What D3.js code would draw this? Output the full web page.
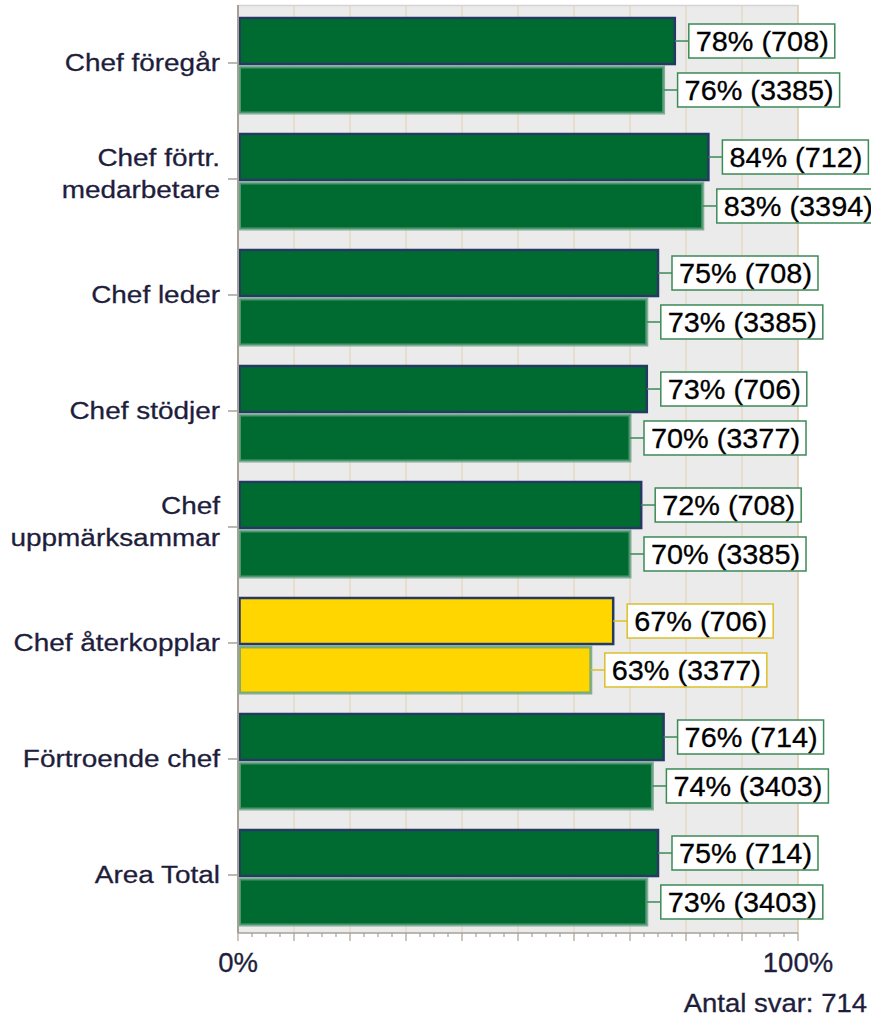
<!DOCTYPE html>
<html>
<head>
<meta charset="utf-8">
<script src="https://cdn.jsdelivr.net/npm/d3@7"></script>
<style>
  body { margin: 0; background: #fff; }
  svg { display: block; font-family: "Liberation Sans", Arial, sans-serif; }
</style>
</head>
<body>
<div class="chart"></div>
<script>
// data
const categories = ["Chef föregår", "Chef förtr.|medarbetare", "Chef leder", "Chef stödjer",
  "Chef|uppmärksammar", "Chef återkopplar", "Förtroende chef", "Area Total"];
const pctUnit = [78, 84, 75, 73, 72, 67, 76, 75];
const nUnit = [708, 712, 708, 706, 708, 706, 714, 714];
const pctTotal = [76, 83, 73, 70, 70, 63, 74, 73];
const nTotal = [3385, 3394, 3385, 3377, 3385, 3377, 3403, 3403];
const xTickLabels = ["0%", "100%"];
const footer = "Antal svar: 714";

const width = 871, height = 1018;
const margin = { top: 5, left: 238, right: 73, bottom: 85 };
const plotW = width - margin.left - margin.right;   // 560
const plotH = height - margin.top - margin.bottom;   // 928

const green = "#006b30", yellow = "#ffd600";
const fillFor = v => v < 70 ? yellow : green;
const boxStrokeFor = v => v < 70 ? "#dcbf2a" : "#3b8a57";
const axisText = "#1e1e3c";

const svg = d3.select(".chart").append("svg")
  .attr("width", width).attr("height", height);

const g = svg.append("g").attr("transform", `translate(${margin.left},${margin.top})`);

const x = d3.scaleLinear().domain([0, 100]).range([0, plotW]);
const y = d3.scaleBand().domain(categories).range([0, plotH]).paddingInner(0).paddingOuter(0);
const sub = d3.scaleBand().domain(["unit", "total"]).range([13, y.bandwidth() - 8]).paddingInner(0.06);

// horizontally stretched text helper
function stretchText(parent, tx, ty, sx, size, anchor, fill, str) {
  const wrap = parent.append("g").attr("transform", `translate(${tx},${ty}) scale(${sx},1)`);
  return wrap.append("text")
    .attr("text-anchor", anchor)
    .attr("font-size", size)
    .attr("fill", fill)
    .attr("stroke", fill).attr("stroke-width", 0.3)
    .text(str);
}

// background
g.append("rect").attr("width", plotW).attr("height", plotH).attr("fill", "#ebebeb");

// grid
g.selectAll(".grid").data(d3.range(10, 100, 10)).enter().append("line")
  .attr("x1", d => x(d)).attr("x2", d => x(d))
  .attr("y1", 0).attr("y2", plotH)
  .attr("stroke", "#e6d6bc").attr("stroke-width", 1.2);
g.append("line").attr("x1", 0).attr("x2", plotW).attr("y1", 0.5).attr("y2", 0.5)
  .attr("stroke", "#d4d4d4").attr("stroke-width", 1.5);
// right border
g.append("line").attr("x1", plotW).attr("x2", plotW).attr("y1", 0).attr("y2", plotH)
  .attr("stroke", "#dccba8").attr("stroke-width", 1.5);

// rows
const rows = categories.map((c, i) => ({
  cat: c,
  bars: [
    { key: "unit", pct: pctUnit[i], n: nUnit[i] },
    { key: "total", pct: pctTotal[i], n: nTotal[i] }
  ]
}));

const row = g.selectAll(".row").data(rows).enter().append("g")
  .attr("transform", d => `translate(0,${y(d.cat)})`);

const bar = row.selectAll(".bar").data(d => d.bars).enter().append("g");

bar.append("rect")
  .attr("x", 1.5)
  .attr("y", d => sub(d.key))
  .attr("width", d => x(d.pct) - 1.5)
  .attr("height", sub.bandwidth())
  .attr("fill", d => fillFor(d.pct))
  .attr("stroke", d => d.key === "unit" ? "#243a63" : "rgba(100,160,130,0.8)")
  .attr("stroke-width", d => d.key === "unit" ? 2.5 : 3);

const labelFont = 28, labelSx = 1.03;
bar.each(function (d) {
  const sel = d3.select(this);
  const cy = sub(d.key) + sub.bandwidth() / 2;
  const bx = x(d.pct) + 14;
  sel.append("line")
    .attr("x1", x(d.pct)).attr("x2", bx)
    .attr("y1", cy).attr("y2", cy)
    .attr("stroke", boxStrokeFor(d.pct)).attr("stroke-width", 1.5);
  const box = sel.append("rect")
    .attr("x", bx).attr("y", cy - 17)
    .attr("height", 34)
    .attr("fill", "#fff")
    .attr("stroke", boxStrokeFor(d.pct)).attr("stroke-width", 1.5);
  const txt = stretchText(sel, bx + 7, cy + labelFont * 0.36, labelSx, labelFont, "start", "#000",
    `${d.pct}% (${d.n})`);
  const tw = txt.node().getComputedTextLength() * labelSx;
  box.attr("width", tw + 13);
});

// y axis
g.append("line").attr("x1", 0).attr("x2", 0).attr("y1", 0).attr("y2", plotH)
  .attr("stroke", "#a8a098").attr("stroke-width", 2);
const yTicks = g.selectAll(".ytick").data(categories).enter().append("g")
  .attr("transform", d => `translate(0,${y(d) + y.bandwidth() / 2})`);
yTicks.append("line").attr("x1", -10).attr("x2", 0).attr("stroke", "#a8a098").attr("stroke-width", 1.5);
yTicks.each(function (d) {
  const t = d3.select(this);
  const lines = d.split("|");
  const off = lines.length === 1 ? 8 : 3;
  lines.forEach((ln, i) => {
    stretchText(t, -18, (i - (lines.length - 1) / 2) * 32 + off, 1.14, 24.5, "end", axisText, ln);
  });
});

// x axis
const xa = g.append("g").attr("transform", `translate(0,${plotH})`);
xa.append("line").attr("x1", 0).attr("x2", plotW).attr("stroke", "#a8a098").attr("stroke-width", 1.5);
xa.selectAll(".minor").data(d3.range(0, 100.1, 2.5)).enter().append("line")
  .attr("x1", d => x(d)).attr("x2", d => x(d))
  .attr("y1", 0).attr("y2", d => d % 10 === 0 ? 8 : 4)
  .attr("stroke", "#a8a098").attr("stroke-width", 1.2);
[0, 100].forEach((v, i) => {
  stretchText(xa, x(v), 39, 1.0, 27.5, "middle", axisText, xTickLabels[i]);
});

stretchText(svg, 867, 1012, 1.1, 25, "end", axisText, footer);
</script>
</body>
</html>
